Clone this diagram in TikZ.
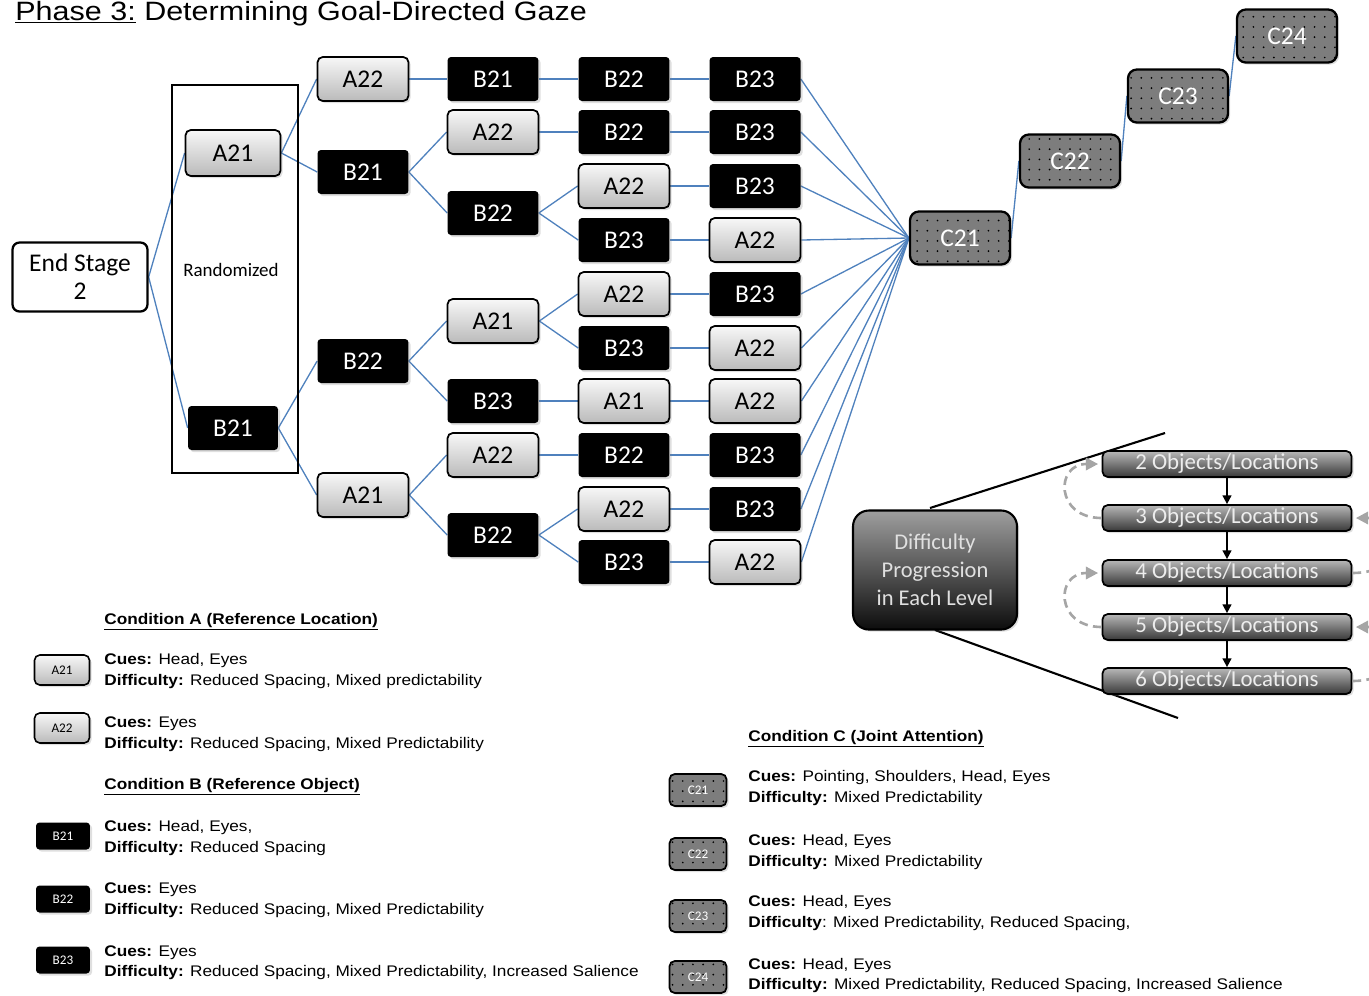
\documentclass[tikz,border=0pt]{standalone}
\usepackage{fontspec}
\setmainfont{Liberation Sans}
\newfontfamily\carlito{Carlito}
\newfontfamily\arialx[FakeStretch=1.12]{Liberation Sans}
\newfontfamily\arialt[FakeStretch=1.15]{Liberation Sans}
\usetikzlibrary{arrows.meta,shadows,patterns.meta,backgrounds}
\definecolor{edgeblue}{RGB}{79,129,189}
\definecolor{cgray}{RGB}{125,125,125}
\definecolor{dashgray}{RGB}{165,165,165}
\tikzset{
  shad/.style={drop shadow={shadow xshift=1.2pt,shadow yshift=-1.2pt,opacity=0.25}},
  boxfont/.style={font=\carlito\fontsize{14.5}{16}\selectfont},
  abox/.style={shad, draw=black, line width=1pt, rounded corners=3pt, top color=white!97!black, bottom color=black!27, minimum width=1.82cm, minimum height=0.88cm, inner sep=0pt, boxfont},
  bbox/.style={shad, fill=black, text=white, rounded corners=2pt, minimum width=1.82cm, minimum height=0.88cm, inner sep=0pt, boxfont},
  cbox/.style={shad, draw=black, line width=1.3pt, rounded corners=5pt, fill=cgray, postaction={pattern color=black, pattern={Dots[distance=5.8pt,radius=0.55pt]}}, text=white, minimum width=2cm, minimum height=1.06cm, inner sep=0pt, boxfont},
  smallfont/.style={font=\carlito\fontsize{7.5}{8}\selectfont},
  edge/.style={draw=edgeblue, line width=0.75pt},
  lg/.style={anchor=base west, inner sep=0pt, font=\arialx\fontsize{8.75}{10}\selectfont},
  lgh/.style={anchor=base west, inner sep=0pt, font=\arialx\fontsize{8.75}{10}\selectfont\bfseries},
  diffbox/.style={shad, draw=black, line width=1.2pt, rounded corners=9pt, top color=black!38, bottom color=black!95, text=white!88!black, minimum width=3.28cm, minimum height=2.38cm, align=center, font=\carlito\fontsize{12.8}{15.9}\selectfont},
  lvbox/.style={shad, draw=black, line width=1pt, rounded corners=3pt, top color=black!28, bottom color=black!78, text=white!93!black, minimum width=4.98cm, minimum height=0.52cm, inner sep=0pt, font=\carlito\fontsize{13}{14}\selectfont},
  lvarrow/.style={draw=black, line width=1pt, -{Triangle[length=5pt,width=5pt]}},
  dasharr/.style={draw=dashgray, line width=1.5pt, dash pattern=on 5pt off 3pt, -{Triangle[length=7pt,width=7pt]}},
}
\begin{document}
\begin{tikzpicture}[x=0.02cm, y=-0.02cm]
\useasboundingbox (0,0) rectangle (1369,995);
\begin{scope}
\clip (0,0) rectangle (1369,995);

% title
\node[anchor=base west, inner sep=0pt, font=\arialt\fontsize{15.1}{17}\selectfont] (title) at (15,20) {\underline{Phase 3:} Determining Goal-Directed Gaze};

% start + randomized
\node[draw=black, line width=1.3pt, rounded corners=4pt, fill=white, minimum width=2.7cm, minimum height=1.38cm, align=center, font=\carlito\fontsize{14.5}{15.9}\selectfont] (es) at (80,277) {End Stage\\2};
\draw[line width=1pt] (172,85) rectangle (298,473);
\node[font=\carlito\fontsize{10.8}{12}\selectfont] (rand) at (231,270) {Randomized};

% column 1
\node[abox, minimum width=1.9cm, minimum height=0.92cm] (a1) at (233,153) {A21};
\node[bbox, minimum width=1.8cm] (b1) at (233,428) {B21};

% column 2
\node[abox] (c2a) at (363,79) {A22};
\node[bbox] (c2b) at (363,172) {B21};
\node[bbox] (c2c) at (363,361) {B22};
\node[abox] (c2d) at (363,495) {A21};

% column 3
\node[bbox] (c3a) at (493,79) {B21};
\node[abox] (c3b) at (493,132) {A22};
\node[bbox] (c3c) at (493,213) {B22};
\node[abox] (c3d) at (493,321) {A21};
\node[bbox] (c3e) at (493,401) {B23};
\node[abox] (c3f) at (493,455) {A22};
\node[bbox] (c3g) at (493,535) {B22};

% column 4
\node[bbox] (c4a) at (624,79) {B22};
\node[bbox] (c4b) at (624,132) {B22};
\node[abox] (c4c) at (624,186) {A22};
\node[bbox] (c4d) at (624,240) {B23};
\node[abox] (c4e) at (624,294) {A22};
\node[bbox] (c4f) at (624,348) {B23};
\node[abox] (c4g) at (624,401) {A21};
\node[bbox] (c4h) at (624,455) {B22};
\node[abox] (c4i) at (624,509) {A22};
\node[bbox] (c4j) at (624,562) {B23};

% column 5
\node[bbox] (c5a) at (755,79) {B23};
\node[bbox] (c5b) at (755,132) {B23};
\node[bbox] (c5c) at (755,186) {B23};
\node[abox] (c5d) at (755,240) {A22};
\node[bbox] (c5e) at (755,294) {B23};
\node[abox] (c5f) at (755,348) {A22};
\node[abox] (c5g) at (755,401) {A22};
\node[bbox] (c5h) at (755,455) {B23};
\node[bbox] (c5i) at (755,509) {B23};
\node[abox] (c5j) at (755,562) {A22};

% C chain
\node[cbox] (C21) at (960,238) {C21};
\node[cbox] (C22) at (1070,161) {C22};
\node[cbox] (C23) at (1178,96) {C23};
\node[cbox] (C24) at (1287,36) {C24};

\begin{scope}[on background layer]
\draw[edge] (es.east) -- (a1.west);
\draw[edge] (es.east) -- (b1.west);
\draw[edge] (a1.east) -- (c2a.west);
\draw[edge] (a1.east) -- (c2b.west);
\draw[edge] (b1.east) -- (c2c.west);
\draw[edge] (b1.east) -- (c2d.west);
\draw[edge] (c2a.east) -- (c3a.west);
\draw[edge] (c2b.east) -- (c3b.west);
\draw[edge] (c2b.east) -- (c3c.west);
\draw[edge] (c2c.east) -- (c3d.west);
\draw[edge] (c2c.east) -- (c3e.west);
\draw[edge] (c2d.east) -- (c3f.west);
\draw[edge] (c2d.east) -- (c3g.west);
\draw[edge] (c3a.east) -- (c4a.west);
\draw[edge] (c3b.east) -- (c4b.west);
\draw[edge] (c3c.east) -- (c4c.west);
\draw[edge] (c3c.east) -- (c4d.west);
\draw[edge] (c3d.east) -- (c4e.west);
\draw[edge] (c3d.east) -- (c4f.west);
\draw[edge] (c3e.east) -- (c4g.west);
\draw[edge] (c3f.east) -- (c4h.west);
\draw[edge] (c3g.east) -- (c4i.west);
\draw[edge] (c3g.east) -- (c4j.west);
\foreach \s in {a,b,c,d,e,f,g,h,i,j}{
  \draw[edge] (c4\s.east) -- (c5\s.west);
  \draw[edge] (c5\s.east) -- (C21.west);
}
\draw[edge] (C21.east) -- (C22.west);
\draw[edge] (C22.east) -- (C23.west);
\draw[edge] (C23.east) -- (C24.west);
\end{scope}

% difficulty progression
\coordinate (tl1) at (930,508);
\coordinate (tl2) at (1165,433);
\coordinate (bl1) at (935,630);
\coordinate (bl2) at (1178,718);
\draw[line width=1.2pt] (tl1) -- (tl2);
\draw[line width=1.2pt] (bl1) -- (bl2);
\node[diffbox] (diff) at (935,570) {Difficulty\\Progression\\in Each Level};
\node[lvbox] (L2) at (1227,464) {2 Objects/Locations};
\node[lvbox] (L3) at (1227,518) {3 Objects/Locations};
\node[lvbox] (L4) at (1227,573) {4 Objects/Locations};
\node[lvbox] (L5) at (1227,627) {5 Objects/Locations};
\node[lvbox] (L6) at (1227,681) {6 Objects/Locations};
\draw[lvarrow] (L2.south) -- (L3.north);
\draw[lvarrow] (L3.south) -- (L4.north);
\draw[lvarrow] (L4.south) -- (L5.north);
\draw[lvarrow] (L5.south) -- (L6.north);
\draw[dasharr, shorten >=2pt] (L3.west) .. controls (1055,518) and (1055,464) .. (L2.west);
\draw[dasharr, shorten >=2pt] (L5.west) .. controls (1055,627) and (1055,573) .. (L4.west);
\draw[dasharr, shorten >=2pt] (L4.east) .. controls (1410,573) and (1410,518) .. (L3.east);
\draw[dasharr, shorten >=2pt] (L6.east) .. controls (1410,681) and (1410,627) .. (L5.east);

% legend A
\node[lgh] (hA) at (104,624) {\underline{Condition A (Reference Location)}};
\node[abox, smallfont, minimum width=1.1cm, minimum height=0.6cm, line width=0.9pt] (LA1) at (62,670) {A21};
\node[lg] (tA1a) at (104,664) {\textbf{Cues:} Head, Eyes};
\node[lg] (tA1b) at (104,685) {\textbf{Difficulty:} Reduced Spacing, Mixed predictability};
\node[abox, smallfont, minimum width=1.1cm, minimum height=0.6cm, line width=0.9pt] (LA2) at (62,728) {A22};
\node[lg] (tA2a) at (104,727) {\textbf{Cues:} Eyes};
\node[lg] (tA2b) at (104,748) {\textbf{Difficulty:} Reduced Spacing, Mixed Predictability};

% legend B
\node[lgh] (hB) at (104,789) {\underline{Condition B (Reference Object)}};
\node[bbox, smallfont, minimum width=1.08cm, minimum height=0.54cm] (LB1) at (63,836) {B21};
\node[lg] (tB1a) at (104,831) {\textbf{Cues:} Head, Eyes,};
\node[lg] (tB1b) at (104,852) {\textbf{Difficulty:} Reduced Spacing};
\node[bbox, smallfont, minimum width=1.08cm, minimum height=0.54cm] (LB2) at (63,899) {B22};
\node[lg] (tB2a) at (104,893) {\textbf{Cues:} Eyes};
\node[lg] (tB2b) at (104,914) {\textbf{Difficulty:} Reduced Spacing, Mixed Predictability};
\node[bbox, smallfont, minimum width=1.08cm, minimum height=0.54cm] (LB3) at (63,960) {B23};
\node[lg] (tB3a) at (104,956) {\textbf{Cues:} Eyes};
\node[lg] (tB3b) at (104,976) {\textbf{Difficulty:} Reduced Spacing, Mixed Predictability, Increased Salience};

% legend C
\node[lgh] (hC) at (748,741) {\underline{Condition C (Joint Attention)}};
\node[cbox, smallfont, minimum width=1.14cm, minimum height=0.64cm, line width=1pt, rounded corners=3pt] (LC1) at (698,790) {C21};
\node[lg] (tC1a) at (748,781) {\textbf{Cues:} Pointing, Shoulders, Head, Eyes};
\node[lg] (tC1b) at (748,802) {\textbf{Difficulty:} Mixed Predictability};
\node[cbox, smallfont, minimum width=1.14cm, minimum height=0.64cm, line width=1pt, rounded corners=3pt] (LC2) at (698,854) {C22};
\node[lg] (tC2a) at (748,845) {\textbf{Cues:} Head, Eyes};
\node[lg] (tC2b) at (748,866) {\textbf{Difficulty:} Mixed Predictability};
\node[cbox, smallfont, minimum width=1.14cm, minimum height=0.64cm, line width=1pt, rounded corners=3pt] (LC3) at (698,916) {C23};
\node[lg] (tC3a) at (748,906) {\textbf{Cues:} Head, Eyes};
\node[lg] (tC3b) at (748,927) {\textbf{Difficulty}: Mixed Predictability, Reduced Spacing,};
\node[cbox, smallfont, minimum width=1.14cm, minimum height=0.64cm, line width=1pt, rounded corners=3pt] (LC4) at (698,977) {C24};
\node[lg] (tC4a) at (748,969) {\textbf{Cues:} Head, Eyes};
\node[lg] (tC4b) at (748,989) {\textbf{Difficulty:} Mixed Predictability, Reduced Spacing, Increased Salience};
\end{scope}
\end{tikzpicture}
\end{document}
